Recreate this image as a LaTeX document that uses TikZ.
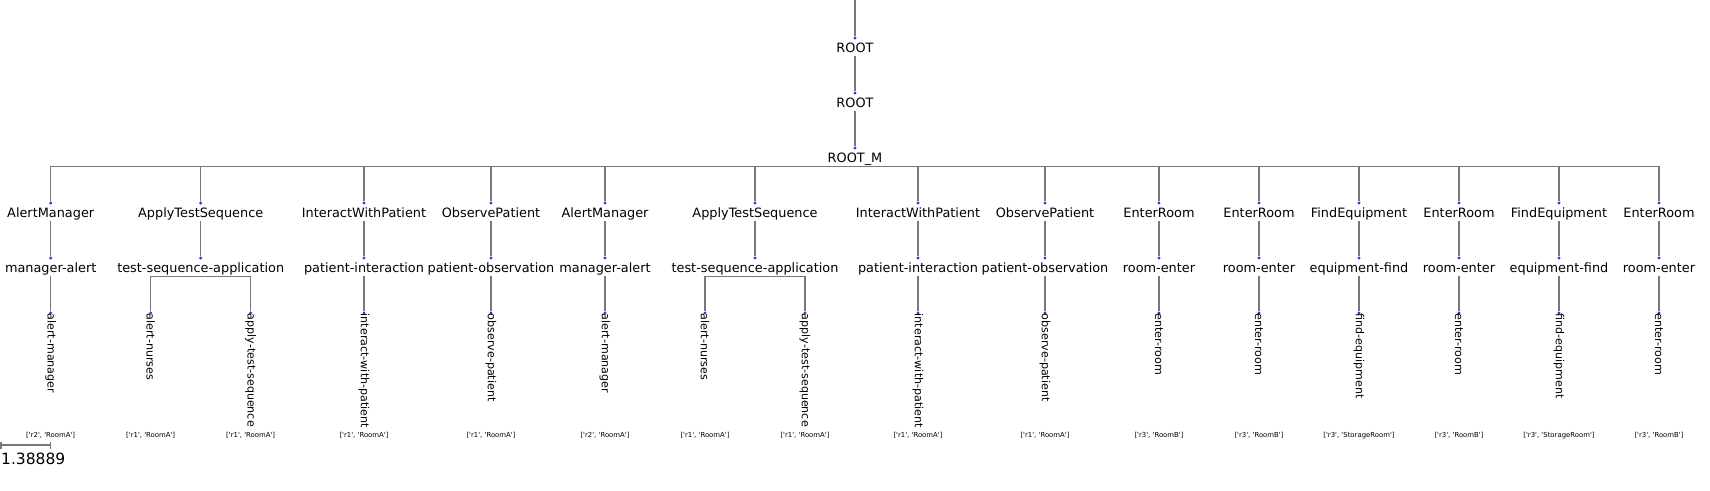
\documentclass[tikz,border=0pt]{standalone}
\usepackage{fontspec}
\setmainfont{DejaVu Sans}
\newfontfamily\attrfont{DejaVu Sans}[Ligatures=TeXOff]
\definecolor{linegray}{RGB}{120,120,120}
\definecolor{dotblue}{RGB}{25,70,225}
\begin{document}
\begin{tikzpicture}[x=1pt,y=-1pt,
  edge/.style={draw=linegray, line width=1.2pt},
  dot/.style={circle, fill=dotblue, inner sep=0pt, minimum size=3.4pt},
  lbl/.style={font=\fontsize{12.86}{15}\selectfont, inner sep=0pt, text height=9.4pt, text depth=4pt, anchor=base},
  leaflbl/.style={font=\fontsize{11.1}{13}\selectfont, inner sep=0pt, rotate=-90, anchor=west},
  attr/.style={font=\attrfont\fontsize{6.9}{8}\selectfont, inner sep=0pt, anchor=base},
  scalelbl/.style={font=\fontsize{15.5}{18}\selectfont, inner sep=0pt, anchor=base west}]
\useasboundingbox (0,0) rectangle (1710,490);

% root chain
\coordinate (top) at (855,0);
\node[dot] (d0) at (855,38) {};
\node[lbl] (t0) at (855,52) {ROOT};
\node[dot] (d1) at (855,93) {};
\node[lbl] (t1) at (855,107) {ROOT};
\node[dot] (d2) at (855,148) {};
\node[lbl] (t2) at (855,162) {ROOT\_M};
\draw[edge] (top) -- (d0.north);
\draw[edge] (t0.south) -- (d1.north);
\draw[edge] (t1.south) -- (d2.north);

% first level and second level
\foreach \i/\x/\a/\b in {
  1/50.7/AlertManager/manager-alert,
  2/200.7/ApplyTestSequence/test-sequence-application,
  3/364/InteractWithPatient/patient-interaction,
  4/491/ObservePatient/patient-observation,
  5/605/AlertManager/manager-alert,
  6/755/ApplyTestSequence/test-sequence-application,
  7/918/InteractWithPatient/patient-interaction,
  8/1045/ObservePatient/patient-observation,
  9/1159/EnterRoom/room-enter,
  10/1259/EnterRoom/room-enter,
  11/1359/FindEquipment/equipment-find,
  12/1459/EnterRoom/room-enter,
  13/1559/FindEquipment/equipment-find,
  14/1659/EnterRoom/room-enter}{
  \node[dot] (c\i) at (\x,203) {};
  \node[lbl] (a\i) at (\x,217) {\a};
  \node[dot] (m\i) at (\x,258) {};
  \node[lbl] (b\i) at (\x,272) {\b};
  \draw[edge] (t2.south) -| (c\i.north);
  \draw[edge] (a\i.south) -- (m\i.north);
}

% leaves
\foreach \j/\p/\x/\n/\r/\s in {
  1/1/50.7/alert-manager/r2/RoomA,
  2/2/150.7/alert-nurses/r1/RoomA,
  3/2/250.7/apply-test-sequence/r1/RoomA,
  4/3/364/interact-with-patient/r1/RoomA,
  5/4/491/observe-patient/r1/RoomA,
  6/5/605/alert-manager/r2/RoomA,
  7/6/705/alert-nurses/r1/RoomA,
  8/6/805/apply-test-sequence/r1/RoomA,
  9/7/918/interact-with-patient/r1/RoomA,
  10/8/1045/observe-patient/r1/RoomA,
  11/9/1159/enter-room/r3/RoomB,
  12/10/1259/enter-room/r3/RoomB,
  13/11/1359/find-equipment/r3/StorageRoom,
  14/12/1459/enter-room/r3/RoomB,
  15/13/1559/find-equipment/r3/StorageRoom,
  16/14/1659/enter-room/r3/RoomB}{
  \node[dot] (l\j) at (\x,313) {};
  \node[leaflbl] (n\j) at (\x,313.5) {\n};
  \node[attr] (q\j) at (\x,437) {['\r', '\s']};
  \draw[edge] (b\p.south) -| (l\j.north);
}

% scale bar
\coordinate (sbA) at (1,445);
\coordinate (sbB) at (50.7,445);
\draw[edge] (sbA) -- (sbB);
\draw[edge] ([yshift=3.5pt]sbA) -- ([yshift=-3.5pt]sbA);
\draw[edge] ([yshift=3.5pt]sbB) -- ([yshift=-3.5pt]sbB);
\node[scalelbl] (sbl) at (1,464) {1.38889};
\end{tikzpicture}
\end{document}
